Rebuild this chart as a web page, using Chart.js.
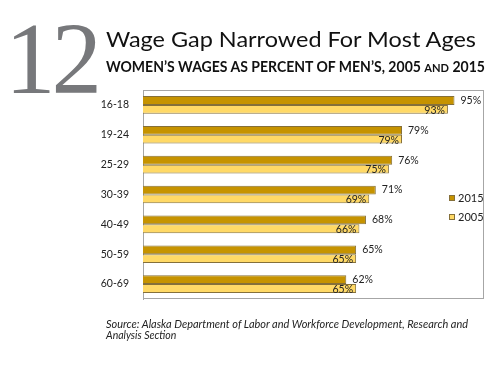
<!DOCTYPE html>
<html>
<head>
<meta charset="utf-8">
<script src="https://cdn.jsdelivr.net/npm/chart.js@4.4.0/dist/chart.umd.min.js"></script>
<style>
  html, body { margin: 0; padding: 0; background: #fff; }
  #wrap { position: relative; width: 500px; height: 365px; overflow: hidden; }
  #chart { position: absolute; left: 0; top: 0; }
  .txt { position: absolute; white-space: nowrap; transform-origin: 0 0; }
  #num { left: 5px; top: 9px; font-family: "Liberation Serif", serif; font-size: 101px; line-height: 101px; color: #77787b; letter-spacing: -4px; }
  #title { left: 106px; top: 26px; font-family: Lato, sans-serif; font-size: 21px; line-height: 26px; color: #111; }
  #sub { left: 106px; top: 58px; font-family: Lato, sans-serif; font-weight: bold; font-size: 14.5px; line-height: 18px; color: #111; }
  #sub .sm { font-size: 11.5px; }
  .src { left: 106px; font-family: Lato, sans-serif; font-style: italic; font-size: 10.5px; line-height: 12px; color: #222; }
</style>
</head>
<body>
<div id="wrap">
  <canvas id="chart" width="500" height="365"></canvas>
  <div class="txt" id="num">12</div>
  <div class="txt" id="title">Wage Gap Narrowed For Most Ages</div>
  <div class="txt" id="sub">WOMEN’S WAGES AS PERCENT OF MEN’S, 2005 <span class="sm">AND</span> 2015</div>
  <div class="txt src" id="src1" style="top:318px">Source: Alaska Department of Labor and Workforce Development, Research and</div>
  <div class="txt src" id="src2" style="top:329px">Analysis Section</div>
</div>
<script>
// data
const ageGroups = ['16-18', '19-24', '25-29', '30-39', '40-49', '50-59', '60-69'];
const wages2015 = [95, 79, 76, 71, 68, 65, 62];
const wages2005 = [93, 79, 75, 69, 66, 65, 65];
const seriesNames = ['2015', '2005'];

const COL_2015 = '#c69300';
const COL_2005 = '#ffd966';
const COL_EDGE = '#85703a';
const FONT = 'Lato, sans-serif';

// stretch html text to the width measured on the reference
function fitWidth(id, w) {
  const el = document.getElementById(id);
  const cur = el.getBoundingClientRect().width;
  if (cur > 0) el.style.transform = 'scaleX(' + (w / cur) + ')';
}
fitWidth('title', 370);
fitWidth('sub', 379);
fitWidth('src1', 362);

// plot frame (top/right/bottom grey lines)
const framePlugin = {
  id: 'frame',
  beforeDatasetsDraw(chart) {
    const a = chart.chartArea, ctx = chart.ctx;
    ctx.save();
    ctx.strokeStyle = '#a6a6a6';
    ctx.lineWidth = 1;
    ctx.strokeRect(a.left + 0.5, a.top + 0.5, a.right - a.left - 1, a.bottom - a.top - 1);
    ctx.restore();
  }
};

// value labels: 2015 outside the bar end, 2005 inside the bar end
const labelPlugin = {
  id: 'valueLabels',
  afterDatasetsDraw(chart) {
    const ctx = chart.ctx;
    ctx.save();
    ctx.font = '10.5px ' + FONT;
    ctx.fillStyle = '#222';
    ctx.textBaseline = 'middle';
    chart.data.datasets.forEach((ds, i) => {
      chart.getDatasetMeta(i).data.forEach((bar, j) => {
        const txt = ds.data[j] + '%';
        if (i === 0) {
          ctx.textAlign = 'left';
          ctx.fillText(txt, bar.x + 6, bar.y);
        } else {
          ctx.textAlign = 'right';
          ctx.fillText(txt, bar.x - 3, bar.y + 1);
        }
      });
    });
    ctx.restore();
  }
};

// small legend in the lower right of the plot
const legendPlugin = {
  id: 'miniLegend',
  afterDraw(chart) {
    const ctx = chart.ctx;
    const x = 449, ys = [198, 217];
    ctx.save();
    ctx.font = '11px ' + FONT;
    ctx.textBaseline = 'middle';
    ctx.textAlign = 'left';
    chart.data.datasets.forEach((ds, i) => {
      ctx.fillStyle = ds.backgroundColor;
      ctx.fillRect(x, ys[i] - 3, 6, 6);
      ctx.strokeStyle = COL_EDGE;
      ctx.lineWidth = 1;
      ctx.strokeRect(x + 0.5, ys[i] - 2.5, 5, 5);
      ctx.fillStyle = '#222';
      ctx.fillText(ds.label, x + 9, ys[i]);
    });
    ctx.restore();
  }
};

new Chart(document.getElementById('chart'), {
  type: 'bar',
  data: {
    labels: ageGroups,
    datasets: [
      { label: seriesNames[0], data: wages2015, backgroundColor: COL_2015, borderColor: COL_EDGE, borderWidth: 1 },
      { label: seriesNames[1], data: wages2005, backgroundColor: COL_2005, borderColor: COL_EDGE, borderWidth: 1 }
    ]
  },
  options: {
    indexAxis: 'y',
    responsive: false,
    animation: false,
    layout: { padding: { left: 0, top: 90, right: 16, bottom: 66 } },
    datasets: { bar: { barPercentage: 1, categoryPercentage: 0.59 } },
    plugins: { legend: { display: false }, tooltip: { enabled: false } },
    scales: {
      x: { display: false, min: 0, max: 104 },
      y: {
        afterFit(scale) { scale.width = 143; },
        grid: { display: false },
        border: { display: true, color: '#a6a6a6' },
        ticks: { color: '#222', font: { family: FONT, size: 10.5 }, padding: 6 }
      }
    }
  },
  plugins: [framePlugin, labelPlugin, legendPlugin]
});
</script>
</body>
</html>
